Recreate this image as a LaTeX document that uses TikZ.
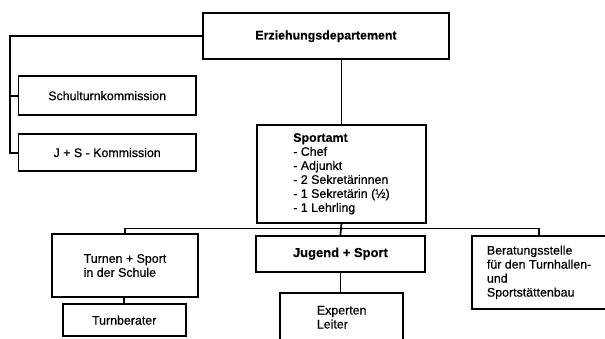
\documentclass[tikz,border=0pt]{standalone}
\usepackage{fontspec}
\setmainfont{Liberation Sans}[UprightFeatures={FakeBold=0.6}, BoldFeatures={FakeBold=0.3}]
\begin{document}
\begin{tikzpicture}[x=1pt,y=-1pt,
  box/.style={draw=black, line width=1.8pt, rectangle, inner sep=0pt, align=left,
    font=\fontsize{12.4}{14}\selectfont},
  conn/.style={draw=black, line width=1.8pt}]
\useasboundingbox (0,0) rectangle (605,338);
\clip (0,0) rectangle (605,338);
% boxes (positions: centre, width, height in px)
\node[box, minimum width=246pt, minimum height=46pt, font=\fontsize{12.4}{14}\selectfont\bfseries] (erz) at (326,36.3) {Erziehungsdepartement};
\node[box, minimum width=177.5pt, minimum height=39.3pt] (schul) at (107.2,95.7) {Schulturnkommission};
\node[box, minimum width=177.5pt, minimum height=37pt] (jsk) at (107.2,152.6) {J + S - Kommission};
\node[box, minimum width=169pt, minimum height=97.7pt] (sport) at (341.5,173.8) {\textbf{Sportamt}\\- Chef\\- Adjunkt\\- 2 Sekretärinnen\\- 1 Sekretärin (½)\\- 1 Lehrling};
\node[box, minimum width=146pt, minimum height=62.4pt] (turnen) at (125,265.5) {Turnen + Sport\\in der Schule};
\node[box, minimum width=169.3pt, minimum height=36pt, font=\fontsize{13}{14}\selectfont\bfseries] (jugend) at (340.4,253.7) {Jugend + Sport};
\node[box, minimum width=134.8pt, minimum height=73.3pt] (berat) at (539.1,272.4) {Beratungsstelle\\für den Turnhallen-\\und\\Sportstättenbau};
\node[box, minimum width=123pt, minimum height=31.7pt] (turnb) at (124.2,320.2) {Turnberater};
\node[box, minimum width=123.3pt, minimum height=48pt] (expert) at (341.7,317.3) {Experten\\Leiter};
% helper coordinates
\coordinate (trunk) at (9.7,0);
\coordinate (bus) at (0,228.5);
% connectors
\draw[conn] (erz.west) -- (erz.west -| trunk) -- (jsk.west -| trunk) -- (jsk.west);
\draw[conn] (schul.west -| trunk) -- (schul.west);
\draw[conn] (sport.north |- erz.south) -- (sport.north);
\draw[conn] (turnen.north) -- (turnen.north |- bus) -- (berat.north |- bus) -- (berat.north);
\draw[conn] (sport.south) -- (jugend.north);
\draw[conn] (turnen.south -| turnb.north) -- (turnb.north);
\draw[conn] (jugend.south) -- (jugend.south |- expert.north);
\end{tikzpicture}
\end{document}
